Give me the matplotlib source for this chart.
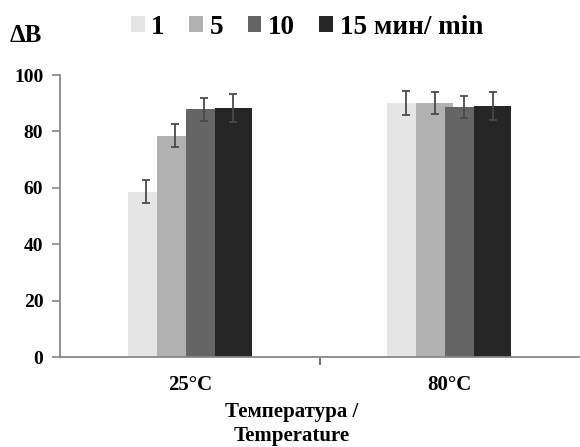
import matplotlib
matplotlib.use("Agg")
import matplotlib.pyplot as plt
import numpy as np

# Data
categories = ["25°C", "80°C"]
series_labels = ["1", "5", "10", "15 мин/ min"]
vals_1 = [58.6, 90.0]
vals_5 = [78.5, 90.0]
vals_10 = [87.8, 88.6]
vals_15 = [88.2, 89.1]
err_1 = [4.0, 4.2]
err_5 = [4.0, 4.0]
err_10 = [4.0, 4.0]
err_15 = [5.0, 5.0]
y_ticks = [0, 20, 40, 60, 80, 100]

series_vals = [vals_1, vals_5, vals_10, vals_15]
series_errs = [err_1, err_5, err_10, err_15]
colors = ["#e5e5e5", "#b2b2b2", "#656565", "#262626"]

plt.rcParams['font.family'] = ['Liberation Serif', 'DejaVu Serif']
plt.rcParams['font.weight'] = 'bold'

W, H = 580, 447
fig = plt.figure(figsize=(W / 100, H / 100), dpi=100)
ax = fig.add_axes([60 / W, (H - 357) / H, (579 - 60) / W, (357 - 75) / H])

centers = np.arange(len(categories)) + 0.5
offsets = [-0.167, -0.056, 0.056, 0.167]
bar_w = 0.142
handles = []
for vals, errs, col, off, lab in zip(series_vals, series_errs, colors, offsets, series_labels):
    b = ax.bar(centers + off, vals, width=bar_w, color=col, label=lab, zorder=2)
    handles.append(b)
for vals, errs, off in zip(series_vals, series_errs, offsets):
    ax.errorbar(centers + off, vals, yerr=errs, fmt='none', ecolor='#4a4a4a',
                elinewidth=1.3, capsize=3, capthick=1.3, zorder=3)

ax.set_xlim(0, 2)
ax.set_ylim(0, 100)
ax.set_yticks(y_ticks)
ax.set_yticklabels([str(v) for v in y_ticks], fontsize=14, fontweight='bold')
ax.set_xticks(centers)
ax.set_xticklabels(categories, fontsize=15, fontweight='bold')
ax.tick_params(axis='x', length=0, pad=13)
ax.set_xticks([1.0], minor=True)
ax.tick_params(axis='x', which='minor', length=6, width=1.2, color='#555555')
ax.tick_params(axis='y', length=6, width=1.2, color='#888888', pad=6)

for s in ['top', 'right']:
    ax.spines[s].set_visible(False)
for s in ['left', 'bottom']:
    ax.spines[s].set_color('#888888')
    ax.spines[s].set_linewidth(1.3)

fig.text(292 / W, 1 - 424 / H, "Температура /\nTemperature", ha='center', va='center',
         fontsize=15, fontweight='bold', linespacing=1.3)
fig.text(10 / W, 1 - 35 / H, "ΔB", ha='left', va='center', fontsize=18, fontweight='bold')

leg = fig.legend(handles=handles, labels=series_labels, ncol=4, frameon=False,
                 loc='center left', bbox_to_anchor=(131 / W, 1 - 27 / H),
                 prop={'weight': 'bold', 'size': 19.5},
                 handlelength=0.5, handleheight=0.5, handletextpad=0.25,
                 columnspacing=0.9, borderaxespad=0, borderpad=0)

fig.savefig("out.png", dpi=100)
